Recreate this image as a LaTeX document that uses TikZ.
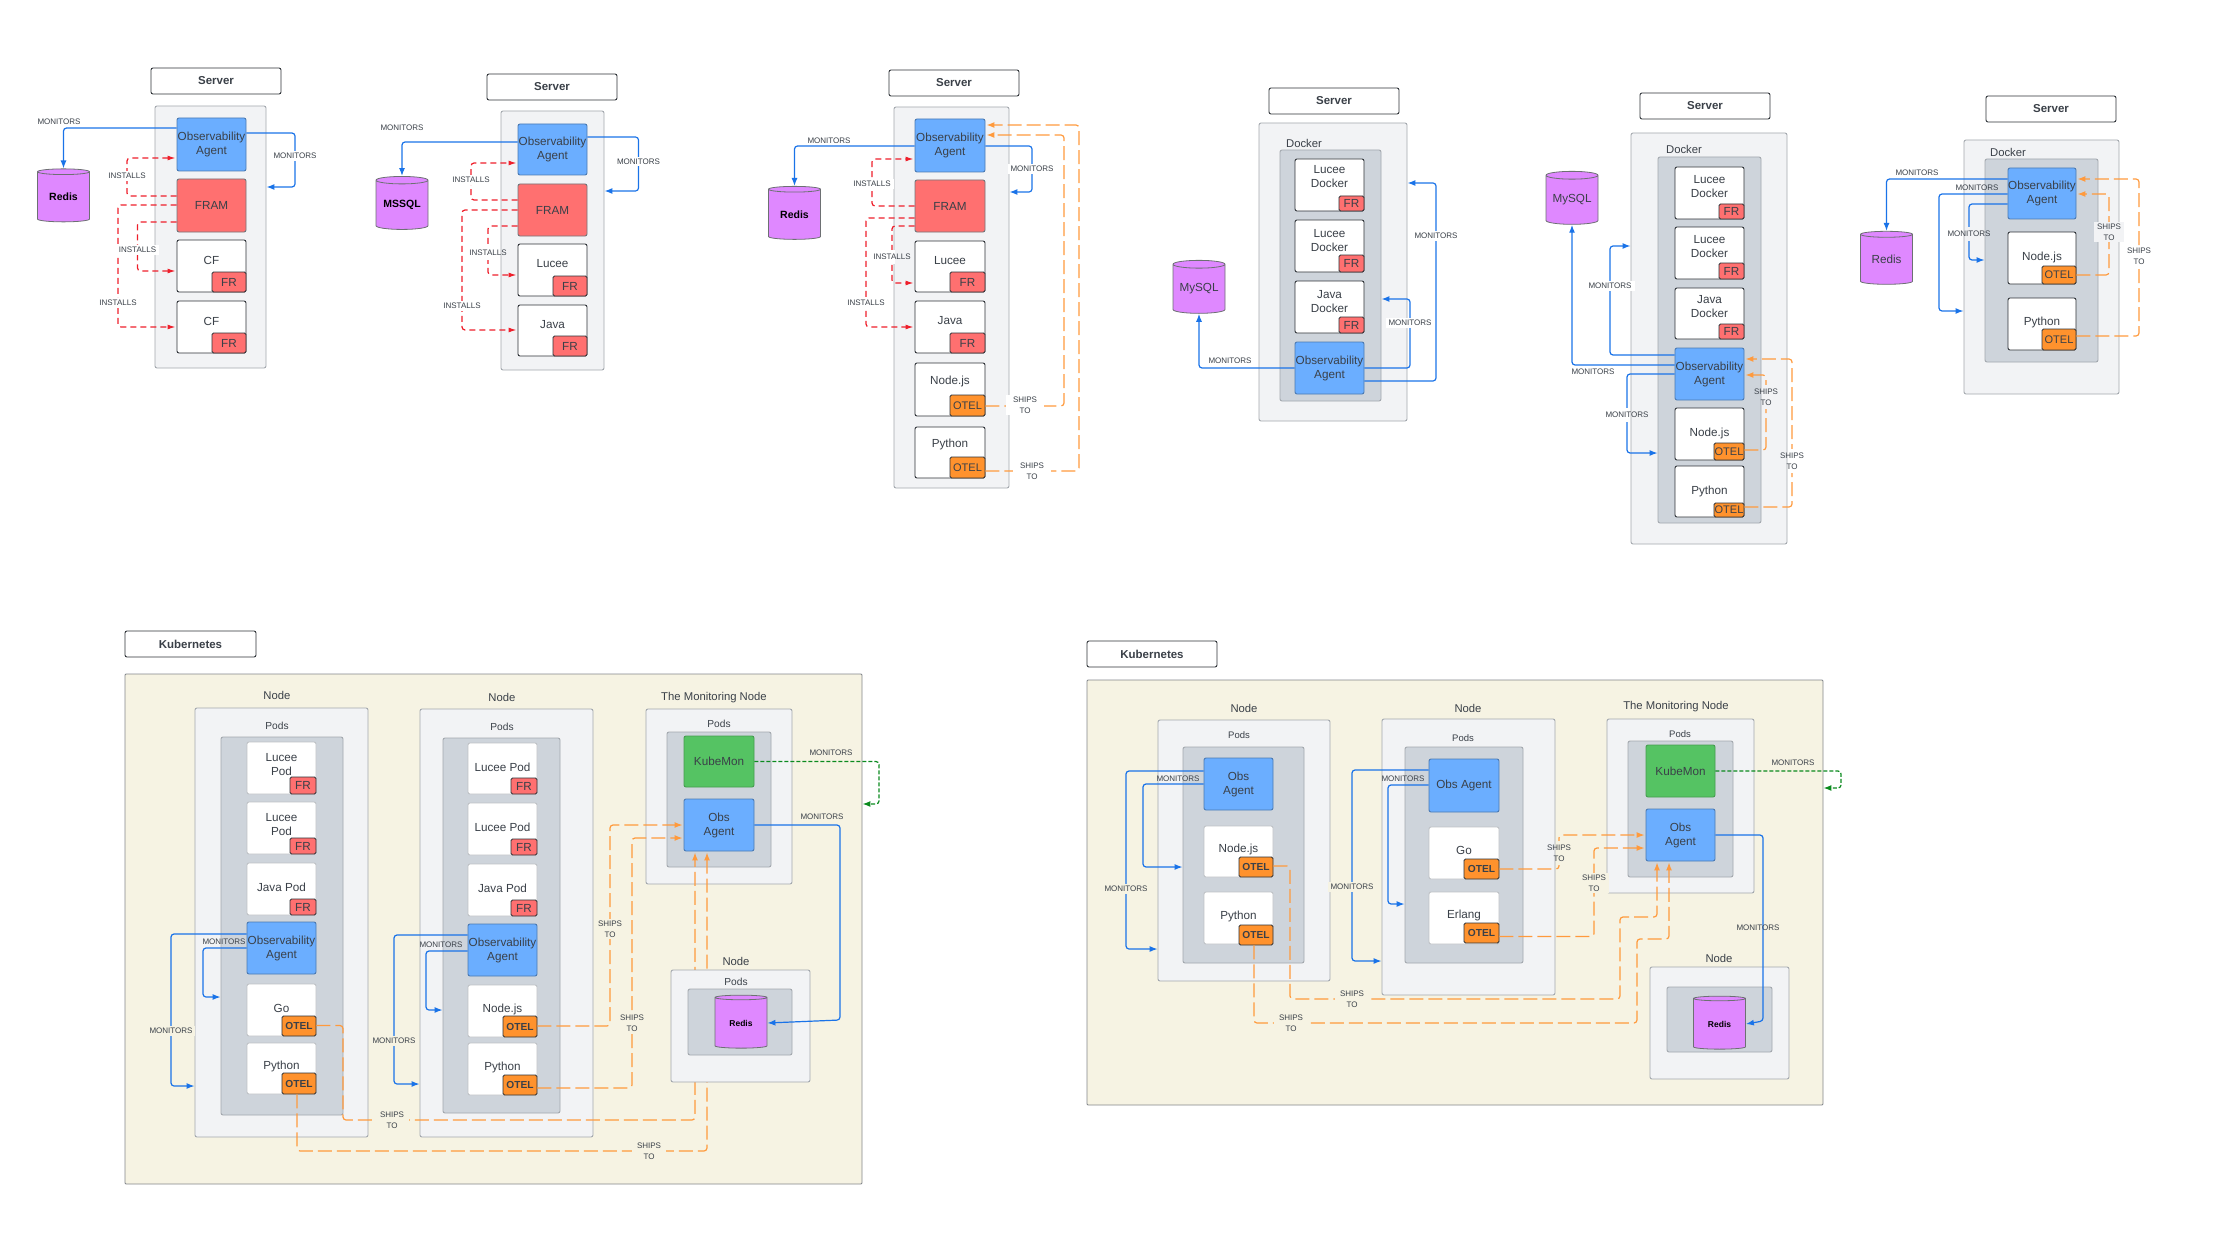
\documentclass[tikz,border=0pt]{standalone}
\usepackage{fontspec}
\setmainfont{Liberation Sans}
\usetikzlibrary{arrows.meta}
\usetikzlibrary{shapes.geometric}
\definecolor{ink}{HTML}{3A4048}
\definecolor{darkedge}{HTML}{2E3237}
\definecolor{softedge}{HTML}{A3A8AE}
\definecolor{outerfill}{HTML}{F2F3F5}
\definecolor{innerfill}{HTML}{CED4DB}
\definecolor{areafill}{HTML}{F6F3E3}
\definecolor{agentfill}{HTML}{6BAEFF}
\definecolor{framfill}{HTML}{FF7070}
\definecolor{otelfill}{HTML}{FF922D}
\definecolor{dbfill}{HTML}{DF88FF}
\definecolor{kubefill}{HTML}{55C363}
\definecolor{monblue}{HTML}{1A73E8}
\definecolor{insred}{HTML}{EE1F2B}
\definecolor{shiporange}{HTML}{FF9A3D}
\definecolor{kmgreen}{HTML}{0B8A1E}
\tikzset{
	every node/.style={inner sep=0pt, align=center, text=ink},
	basefont/.style={font=\fontsize{11.7}{14}\selectfont},
	titlebox/.style={draw=darkedge, fill=white, rounded corners=2pt, line width=0.9pt, font=\fontsize{11.5}{14}\selectfont\bfseries},
	outerbox/.style={draw=softedge, fill=outerfill, rounded corners=2pt, line width=0.9pt},
	innerbox/.style={draw=softedge, fill=innerfill, rounded corners=2pt, line width=0.9pt},
	areabox/.style={draw=softedge!80!black, fill=areafill, rounded corners=1pt, line width=0.9pt},
	appbox/.style={draw=darkedge, fill=white, rounded corners=2pt, line width=0.9pt},
	podbox/.style={draw=softedge!70, fill=white, rounded corners=2pt, line width=0.9pt},
	agentbox/.style={basefont, draw=agentfill!70!black, fill=agentfill, rounded corners=2pt, line width=0.9pt},
	frambox/.style={basefont, draw=softedge!70!black, fill=framfill, rounded corners=2pt, line width=0.9pt},
	kubebox/.style={basefont, draw=kubefill!80!black, fill=kubefill, rounded corners=2pt, line width=0.9pt},
	frbadge/.style={basefont, draw=darkedge, fill=framfill, rounded corners=1.5pt, line width=0.9pt},
	otelbadge/.style={font=\fontsize{11}{14}\selectfont, draw=darkedge, fill=otelfill, rounded corners=1.5pt, line width=0.9pt},
	otelbold/.style={font=\fontsize{10.2}{14}\selectfont\bfseries, draw=darkedge, fill=otelfill, rounded corners=1.5pt, line width=0.9pt},
	dbstyle/.style={shape=cylinder, shape border rotate=90, shape aspect=0.2, minimum width=52pt, minimum height=53pt, yshift=-3pt, draw=darkedge!70, cylinder uses custom fill, cylinder body fill=dbfill, cylinder end fill=dbfill, line width=0.8pt, basefont},
	lab/.style={font=\fontsize{8}{10.5}\selectfont},
	gaplab/.style={lab, fill=#1, inner xsep=3pt, inner ysep=2pt},
	linegap/.style={fill=#1, minimum width=6pt, minimum height=14pt},
	boxlab/.style={font=\fontsize{11.3}{14}\selectfont},
	podlab/.style={font=\fontsize{10.2}{14}\selectfont},
	monline/.style={draw=monblue, line width=1.2pt, rounded corners=3pt, -{Latex[length=8pt,width=6pt]}},
	insline/.style={draw=insred, line width=1.2pt, rounded corners=3pt, dash pattern=on 6pt off 4pt, shorten >=1pt, -{Latex[length=8pt,width=5pt]}},
	shipline/.style={draw=shiporange, line width=1.2pt, rounded corners=3pt, dash pattern=on 14pt off 5pt, shorten >=1pt, -{Latex[length=8pt,width=6pt]}},
	kmline/.style={draw=kmgreen, line width=1.2pt, rounded corners=3pt, dash pattern=on 4pt off 2pt, -{Latex[length=8pt,width=6pt]}},
}
\newcommand{\rectnode}[7] % style, name, x1, y1, x2, y2, text
{
	\pgfmathsetmacro{\boxw}{#5-#3}
	\pgfmathsetmacro{\boxh}{#6-#4}
	\node[#1, minimum width=\boxw pt, minimum height=\boxh pt] (#2) at ({(#3+#5)/2},{(#4+#6)/2}) {#7};
}
\newcommand{\app}[7] % name, x1, y1, x2, y2, text, text offset
{
	\rectnode{appbox}{#1}{#2}{#3}{#4}{#5}{}
	\node[basefont] (#1txt) at ({(#2+#4)/2},{(#3+#5)/2+#7}) {#6};
}
\newcommand{\pod}[7] % same as app, lighter frame
{
	\rectnode{podbox}{#1}{#2}{#3}{#4}{#5}{}
	\node[basefont] (#1txt) at ({(#2+#4)/2},{(#3+#5)/2+#7}) {#6};
}
\newcommand{\frtag}[5]{\rectnode{frbadge}{#1}{#2}{#3}{#4}{#5}{FR}}
\newcommand{\oteltag}[5]{\rectnode{otelbadge}{#1}{#2}{#3}{#4}{#5}{OTEL}}
\newcommand{\otelkube}[5]{\rectnode{otelbold}{#1}{#2}{#3}{#4}{#5}{OTEL}}
\begin{document}
\begin{tikzpicture}[x=1pt,y=-1pt]
	\useasboundingbox (0,0) rectangle (2240,1260);

	% server with fram, two cf
	\rectnode{titlebox}{sa}{151}{68}{281}{94}{Server}
	\rectnode{outerbox}{saouter}{155}{106}{266}{368}{}
	\rectnode{agentbox}{saagent}{177}{118}{246}{171}{Observability\\Agent}
	\rectnode{frambox}{safram}{177}{179}{246}{232}{FRAM}
	\app{sacfa}{177}{240}{246}{292}{CF}{-6}
	\frtag{sacfafr}{212}{272}{246}{292}
	\app{sacfb}{177}{301}{246}{353}{CF}{-6}
	\frtag{sacfbfr}{212}{333}{246}{353}
	\node[dbstyle, font=\fontsize{10.5}{14}\selectfont\bfseries, text=black] (sadb) at (63.5,194) {Redis};
	\draw[monline] (saagent.west |- 0,128) -| (sadb.north);
	\draw[monline] (saagent.east |- 0,133) -| (295,187) -- (saouter.east |- 0,187);
	\draw[insline] (safram.west |- 0,196) -| (127,158) -- (saagent.west |- 0,158);
	\draw[insline] (safram.west |- 0,205) -| (118,327) -- (sacfb.west |- 0,327);
	\draw[insline] (safram.west |- 0,222) -| (137.5,271) -- (sacfa.west |- 0,271);
	\node[lab] (samona) at (59,122) {MONITORS};
	\node[gaplab=white] (samonb) at (295,156) {MONITORS};
	\node[gaplab=white] (sainsa) at (127,176) {INSTALLS};
	\node[gaplab=white] (sainsb) at (118,303) {INSTALLS};
	\node[gaplab=white] (sainsc) at (137.5,250) {INSTALLS};

	% server with fram, lucee, java
	\rectnode{titlebox}{sb}{487}{74}{617}{100}{Server}
	\rectnode{outerbox}{sbouter}{501}{111}{604}{370}{}
	\rectnode{agentbox}{sbagent}{518}{124}{587}{175}{Observability\\Agent}
	\rectnode{frambox}{sbfram}{518}{184}{587}{236}{FRAM}
	\app{sblucee}{518}{244}{587}{296}{Lucee}{-6}
	\frtag{sbluceefr}{553}{276}{587}{296}
	\app{sbjava}{518}{305}{587}{356}{Java}{-6}
	\frtag{sbjavafr}{553}{336}{587}{356}
	\node[dbstyle, font=\fontsize{10.5}{14}\selectfont\bfseries, text=black] (sbdb) at (402,202) {MSSQL};
	\draw[monline] (sbagent.west |- 0,142) -| (sbdb.north);
	\draw[monline] (sbagent.east |- 0,137) -| (638.5,191) -- (sbouter.east |- 0,191);
	\draw[insline] (sbfram.west |- 0,200) -| (471,163) -- (sbagent.west |- 0,163);
	\draw[insline] (sbfram.west |- 0,210) -| (462,330) -- (sbjava.west |- 0,330);
	\draw[insline] (sbfram.west |- 0,226) -| (488,275) -- (sblucee.west |- 0,275);
	\node[lab] (sbmona) at (402,128) {MONITORS};
	\node[gaplab=white] (sbmonb) at (638.5,161.5) {MONITORS};
	\node[gaplab=white] (sbinsa) at (471,180) {INSTALLS};
	\node[gaplab=white] (sbinsb) at (462,306) {INSTALLS};
	\node[linegap=white] (sbgap) at (488,253) {};
	\node[lab] (sbinsc) at (488,253) {INSTALLS};

	% server with otel apps too
	\rectnode{titlebox}{sc}{889}{70}{1019}{96}{Server}
	\rectnode{outerbox}{scouter}{894}{107}{1009}{488}{}
	\rectnode{agentbox}{scagent}{915}{119}{985}{172}{Observability\\Agent}
	\rectnode{frambox}{scfram}{915}{180}{985}{232}{FRAM}
	\app{sclucee}{915}{241}{985}{292}{Lucee}{-6}
	\frtag{scluceefr}{950}{272}{985}{292}
	\app{scjava}{915}{301}{985}{353}{Java}{-6}
	\frtag{scjavafr}{950}{333}{985}{353}
	\app{scnode}{915}{363}{985}{416}{Node.js}{-8}
	\oteltag{scnodeot}{950}{395}{985}{416}
	\app{scpy}{915}{427}{985}{478}{Python}{-8}
	\oteltag{scpyot}{950}{457}{985}{478}
	\node[dbstyle, font=\fontsize{10.5}{14}\selectfont\bfseries, text=black] (scdb) at (794.5,211.5) {Redis};
	\draw[monline] (scagent.west |- 0,146) -| (scdb.north);
	\draw[monline] (scagent.east |- 0,146) -| (1032,192) -- (scouter.east |- 0,192);
	\draw[insline] (scfram.west |- 0,206) -| (872,159) -- (scagent.west |- 0,159);
	\draw[insline] (scfram.west |- 0,218) -| (866,327) -- (scjava.west |- 0,327);
	\draw[insline] (scfram.west |- 0,226) -| (892,283) -- (sclucee.west |- 0,283);
	\draw[shipline] (scnodeot.east |- 0,406) -| (1064,135) -- (scagent.east |- 0,135);
	\draw[shipline] (scpyot.east |- 0,471) -| (1079,125) -- (scagent.east |- 0,125);
	\node[lab] (scmona) at (829,141) {MONITORS};
	\node[gaplab=white] (scmonb) at (1032,169) {MONITORS};
	\node[gaplab=white] (scinsa) at (872,184) {INSTALLS};
	\node[gaplab=white] (scinsb) at (866,303) {INSTALLS};
	\node[linegap=white] (scgap) at (892,257) {};
	\node[lab] (scinsc) at (892,257) {INSTALLS};
	\node[gaplab=white, inner xsep=7pt] (scshipa) at (1025,405) {SHIPS\\TO};
	\node[gaplab=white, inner xsep=7pt] (scshipb) at (1032,471) {SHIPS\\TO};

	% docker server, agent below
	\rectnode{titlebox}{sd}{1269}{88}{1399}{114}{Server}
	\rectnode{outerbox}{sdouter}{1259}{123}{1407}{421}{}
	\node[boxlab] (sddock) at (1304,143) {Docker};
	\rectnode{innerbox}{sdinner}{1280}{150}{1381}{401}{}
	\app{sdluca}{1295}{159}{1364}{211}{Lucee\\Docker}{-8}
	\frtag{sdlucafr}{1339}{196}{1364}{211}
	\app{sdlucb}{1295}{220}{1364}{272}{Lucee\\Docker}{-5}
	\frtag{sdlucbfr}{1339}{255}{1364}{272}
	\app{sdjava}{1295}{281}{1364}{333}{Java\\Docker}{-5}
	\frtag{sdjavafr}{1339}{317}{1364}{333}
	\rectnode{agentbox}{sdagent}{1295}{342}{1364}{394}{Observability\\Agent}
	\node[dbstyle] (sddb) at (1199,286) {MySQL};
	\draw[monline] (sdagent.west |- 0,368) -| (sddb.south);
	\draw[monline] (sdagent.east |- 0,368) -| (1410,299) -- (sdinner.east |- 0,299);
	\draw[monline] (sdagent.east |- 0,381) -| (1436,183) -- (sdouter.east |- 0,183);
	\node[lab] (sdmona) at (1230,361) {MONITORS};
	\node[gaplab=white] (sdmonb) at (1410,323) {MONITORS};
	\node[gaplab=white] (sdmonc) at (1436,236) {MONITORS};

	% docker server, otel apps below agent
	\rectnode{titlebox}{se}{1640}{93}{1770}{119}{Server}
	\rectnode{outerbox}{seouter}{1631}{133}{1787}{544}{}
	\node[boxlab] (sedock) at (1684,149) {Docker};
	\rectnode{innerbox}{seinner}{1658}{157}{1761}{523}{}
	\app{seluca}{1675}{167}{1744}{219}{Lucee\\Docker}{-6}
	\frtag{selucafr}{1719}{204}{1744}{219}
	\app{selucb}{1675}{227}{1744}{279}{Lucee\\Docker}{-6}
	\frtag{selucbfr}{1719}{263}{1744}{279}
	\app{sejava}{1675}{288}{1744}{339}{Java\\Docker}{-7}
	\frtag{sejavafr}{1719}{324}{1744}{339}
	\rectnode{agentbox}{seagent}{1675}{348}{1744}{400}{Observability\\Agent}
	\app{senode}{1675}{408}{1744}{460}{Node.js}{-1}
	\oteltag{senodeot}{1714}{443}{1744}{460}
	\app{sepy}{1675}{466}{1744}{517}{Python}{0}
	\oteltag{sepyot}{1714}{503}{1744}{517}
	\node[dbstyle] (sedb) at (1572,197) {MySQL};
	\draw[monline] (seagent.west |- 0,355) -| (1610,246) -- (seouter.west |- 0,246);
	\draw[monline] (seagent.west |- 0,365) -| (sedb.south);
	\draw[monline] (seagent.west |- 0,374) -| (1627,453) -- (seinner.west |- 0,453);
	\draw[shipline] (senodeot.east |- 0,450) -| (1766,375) -- (seagent.east |- 0,375);
	\draw[shipline] (sepyot.east |- 0,507) -| (1792,359) -- (seagent.east |- 0,359);
	\node[gaplab=white] (semona) at (1610,286) {MONITORS};
	\node[lab] (semonb) at (1593,372) {MONITORS};
	\node[linegap=white] (segapa) at (1627,415) {};
	\node[lab] (semonc) at (1627,415) {MONITORS};
	\node[linegap=outerfill, minimum height=24pt] (segapb) at (1766,397) {};
	\node[lab] (seshipa) at (1766,397) {SHIPS\\TO};
	\node[linegap=white, minimum height=24pt] (segapc) at (1792,461) {};
	\node[lab] (seshipb) at (1792,461) {SHIPS\\TO};

	% docker server, agent on top
	\rectnode{titlebox}{sf}{1986}{96}{2116}{122}{Server}
	\rectnode{outerbox}{sfouter}{1964}{140}{2119}{394}{}
	\node[boxlab] (sfdock) at (2008,152) {Docker};
	\rectnode{innerbox}{sfinner}{1985}{159}{2098}{362}{}
	\rectnode{agentbox}{sfagent}{2008}{168}{2076}{219}{Observability\\Agent}
	\app{sfnode}{2008}{232}{2076}{284}{Node.js}{-1}
	\oteltag{sfnodeot}{2042}{266}{2076}{284}
	\app{sfpy}{2008}{298}{2076}{350}{Python}{-2}
	\oteltag{sfpyot}{2042}{329}{2076}{350}
	\node[dbstyle] (sfdb) at (1886.5,256.5) {Redis};
	\draw[monline] (sfagent.west |- 0,179) -| (sfdb.north);
	\draw[monline] (sfagent.west |- 0,194) -| (1939,311) -- (sfouter.west |- 0,311);
	\draw[monline] (sfagent.west |- 0,204) -| (1969,260) -- (sfinner.west |- 0,260);
	\draw[shipline] (sfnodeot.east |- 0,275) -| (2109,194) -- (sfagent.east |- 0,194);
	\draw[shipline] (sfpyot.east |- 0,336) -| (2139,179) -- (sfagent.east |- 0,179);
	\node[lab] (sfmona) at (1917,173) {MONITORS};
	\node[lab] (sfmonb) at (1977,188) {MONITORS};
	\node[linegap=outerfill] (sfgap) at (1969,234) {};
	\node[lab] (sfmonc) at (1969,234) {MONITORS};
	\node[gaplab=outerfill] (sfshipa) at (2109,232) {SHIPS\\TO};
	\node[gaplab=white] (sfshipb) at (2139,256) {SHIPS\\TO};

	% kubernetes, left
	\rectnode{titlebox}{ka}{125}{631}{256}{657}{Kubernetes}
	\rectnode{areabox}{kaarea}{125}{674}{862}{1184}{}
	\node[boxlab] (kanodealab) at (277,695) {Node};
	\rectnode{outerbox}{kanodea}{195}{708}{368}{1137}{}
	\node[podlab] (kapodsalab) at (277,726) {Pods};
	\rectnode{innerbox}{kapodsa}{221}{737}{343}{1115}{}
	\pod{kaluca}{247}{742}{316}{794}{Lucee\\Pod}{-3}
	\frtag{kalucafr}{290}{777}{316}{794}
	\pod{kalucb}{247}{802}{316}{854}{Lucee\\Pod}{-3}
	\frtag{kalucbfr}{290}{838}{316}{854}
	\pod{kajava}{247}{863}{316}{915}{Java Pod}{-2}
	\frtag{kajavafr}{290}{899}{316}{915}
	\rectnode{agentbox}{kaagenta}{247}{922}{316}{974}{Observability\\Agent}
	\pod{kago}{247}{984}{316}{1036}{Go}{-2}
	\otelkube{kagoot}{282}{1016}{316}{1036}
	\pod{kapya}{247}{1043}{316}{1094}{Python}{-2}
	\otelkube{kapyaot}{282}{1073}{316}{1094}
	\node[boxlab] (kanodeblab) at (502,697) {Node};
	\rectnode{outerbox}{kanodeb}{420}{709}{593}{1137}{}
	\node[podlab] (kapodsblab) at (502,727) {Pods};
	\rectnode{innerbox}{kapodsb}{443}{738}{560}{1113}{}
	\pod{kalucc}{468}{743}{537}{794}{Lucee Pod}{-1.5}
	\frtag{kaluccfr}{511}{778}{537}{794}
	\pod{kalucd}{468}{803}{537}{855}{Lucee Pod}{-1.5}
	\frtag{kalucdfr}{511}{839}{537}{855}
	\pod{kajavb}{468}{864}{537}{916}{Java Pod}{-1.5}
	\frtag{kajavbfr}{511}{900}{537}{916}
	\rectnode{agentbox}{kaagentb}{468}{924}{537}{976}{Observability\\Agent}
	\pod{kanode}{468}{985}{537}{1037}{Node.js}{-2}
	\otelkube{kanodeot}{503}{1016}{537}{1037}
	\pod{kapyb}{468}{1043}{537}{1095}{Python}{-2}
	\otelkube{kapybot}{503}{1075}{537}{1095}
	\node[boxlab] (kamonlab) at (714,698) {The Monitoring Node};
	\rectnode{outerbox}{kamon}{646}{709}{792}{884}{}
	\node[podlab] (kapodsclab) at (719,724) {Pods};
	\rectnode{innerbox}{kapodsc}{667}{732}{771}{867}{}
	\rectnode{kubebox}{kakube}{684}{736}{754}{787}{KubeMon}
	\rectnode{agentbox}{kaobs}{684}{799}{754}{851}{Obs\\Agent}
	\draw[shipline] (kagoot.east |- 0,1025.5) -| (343,1120) -| (kaobs.south -| 695,0);
	\draw[shipline] (kapyaot.south -| 297,0) |- (707,1151) -- (kaobs.south -| 707,0);
	\draw[shipline] (kanodeot.east |- 0,1026) -| (610,825) -- (kaobs.west |- 0,825);
	\draw[shipline] (kapybot.east |- 0,1088) -| (632,838) -- (kaobs.west |- 0,838);
	\node[boxlab] (kanodeclab) at (736,961) {Node};
	\rectnode{outerbox}{kanodec}{671}{970}{810}{1082}{}
	\node[podlab] (kapodsdlab) at (736,982) {Pods};
	\rectnode{innerbox}{kapodsd}{688}{989}{792}{1055}{}
	\node[dbstyle, font=\fontsize{8.5}{10}\selectfont\bfseries, text=black] (kadb) at (741,1020) {Redis};
	\draw[monline] (kaagenta.west |- 0,934) -| (171,1086) -- (kanodea.west |- 0,1086);
	\draw[monline] (kaagenta.west |- 0,948) -| (203,997) -- (kapodsa.west |- 0,997);
	\draw[monline] (kaagentb.west |- 0,935) -| (394,1084) -- (kanodeb.west |- 0,1084);
	\draw[monline] (kaagentb.west |- 0,951) -| (426,1010) -- (kapodsb.west |- 0,1010);
	\draw[monline] (kaobs.east |- 0,825) -| (840,1020) -- (kadb.east);
	\draw[kmline] (kakube.east) -| (879,804) -- (kaarea.east |- 0,804);
	\node[gaplab=areafill] (kamona) at (171,1031) {MONITORS};
	\node[lab] (kamonb) at (224,942) {MONITORS};
	\node[gaplab=areafill] (kamonc) at (394,1041) {MONITORS};
	\node[lab] (kamond) at (441,945) {MONITORS};
	\node[lab] (kamone) at (831,753) {MONITORS};
	\node[lab] (kamonf) at (822,817) {MONITORS};
	\node[gaplab=areafill, inner xsep=5pt] (kashipa) at (392,1120) {SHIPS\\TO};
	\node[gaplab=areafill, inner xsep=5pt] (kashipb) at (649,1151) {SHIPS\\TO};
	\node[gaplab=areafill] (kashipc) at (610,929) {SHIPS\\TO};
	\node[gaplab=areafill] (kashipd) at (632,1023) {SHIPS\\TO};

	% kubernetes, right
	\rectnode{titlebox}{kb}{1087}{641}{1217}{667}{Kubernetes}
	\rectnode{areabox}{kbarea}{1087}{680}{1823}{1105}{}
	\node[boxlab] (kbnodealab) at (1244,708) {Node};
	\rectnode{outerbox}{kbnodea}{1158}{720}{1330}{981}{}
	\node[font=\fontsize{9.5}{12}\selectfont] (kbpodsalab) at (1239,735) {Pods};
	\rectnode{innerbox}{kbpodsa}{1183}{747}{1304}{963}{}
	\rectnode{agentbox}{kbagenta}{1204}{758}{1273}{810}{Obs\\Agent}
	\pod{kbnode}{1204}{826}{1273}{877}{Node.js}{-2.5}
	\otelkube{kbnodeot}{1239}{857}{1273}{877}
	\pod{kbpy}{1204}{892}{1273}{944}{Python}{-2}
	\otelkube{kbpyot}{1239}{925}{1273}{945}
	\node[boxlab] (kbnodeblab) at (1468,708) {Node};
	\rectnode{outerbox}{kbnodeb}{1382}{719}{1555}{995}{}
	\node[font=\fontsize{9.5}{12}\selectfont] (kbpodsblab) at (1463,738) {Pods};
	\rectnode{innerbox}{kbpodsb}{1405}{747}{1523}{963}{}
	\rectnode{agentbox}{kbagentb}{1429}{759}{1499}{812}{Obs Agent}
	\pod{kbgo}{1429}{827}{1499}{879}{Go}{-3}
	\otelkube{kbgoot}{1464}{859}{1499}{879}
	\pod{kberl}{1429}{892}{1499}{944}{Erlang}{-3}
	\otelkube{kberot}{1464}{923}{1499}{943}
	\node[boxlab] (kbmonlab) at (1676,707) {The Monitoring Node};
	\rectnode{outerbox}{kbmon}{1607}{719}{1754}{893}{}
	\node[font=\fontsize{9.5}{12}\selectfont] (kbpodsclab) at (1680,734) {Pods};
	\rectnode{innerbox}{kbpodsc}{1628}{741}{1733}{877}{}
	\rectnode{kubebox}{kbkube}{1646}{745}{1715}{797}{KubeMon}
	\rectnode{agentbox}{kbobs}{1646}{809}{1715}{861}{Obs\\Agent}
	\node[boxlab] (kbnodeclab) at (1719,958) {Node};
	\rectnode{outerbox}{kbnodec}{1650}{967}{1789}{1079}{}
	\rectnode{innerbox}{kbpodsd}{1667}{987}{1772}{1052}{}
	\node[dbstyle, font=\fontsize{8.5}{10}\selectfont\bfseries, text=black] (kbdb) at (1719.5,1021) {Redis};
	\draw[monline] (kbagenta.west |- 0,771) -| (1126,949) -- (kbnodea.west |- 0,949);
	\draw[monline] (kbagenta.west |- 0,784) -| (1143,867) -- (kbpodsa.west |- 0,867);
	\draw[monline] (kbagentb.west |- 0,770) -| (1352,961) -- (kbnodeb.west |- 0,961);
	\draw[monline] (kbagentb.west |- 0,785) -| (1388,904) -- (kbpodsb.west |- 0,904);
	\draw[monline] (kbobs.east |- 0,835) -| (1763,1021) -- (kbdb.east);
	\draw[kmline] (kbkube.east) -| (1841,788) -- (kbarea.east |- 0,788);
	\draw[shipline] (kbnodeot.east |- 0,866) -| (1290,999) -| (1620,917) -| (kbobs.south -| 1657,0);
	\draw[shipline] (kbpyot.south -| 1254,0) |- (1637,1023) |- (1669,939) -- (kbobs.south -| 1669,0);
	\draw[shipline] (kbgoot.east |- 0,869) -| (1559,835) -- (kbobs.west |- 0,835);
	\draw[shipline] (kberot.east |- 0,936.5) -| (1594,848) -- (kbobs.west |- 0,848);
	\node[gaplab=areafill] (kbmona) at (1126,889) {MONITORS};
	\node[lab] (kbmonb) at (1178,779) {MONITORS};
	\node[gaplab=areafill] (kbmonc) at (1352,887) {MONITORS};
	\node[lab] (kbmond) at (1403,779) {MONITORS};
	\node[lab] (kbmone) at (1793,763) {MONITORS};
	\node[lab] (kbmonf) at (1758,928) {MONITORS};
	\node[gaplab=areafill, inner xsep=5pt] (kbshipa) at (1352,999) {SHIPS\\TO};
	\node[gaplab=areafill, inner xsep=5pt] (kbshipb) at (1291,1023) {SHIPS\\TO};
	\node[linegap=areafill, minimum height=24pt] (kbgap) at (1559,853) {};
	\node[lab] (kbshipc) at (1559,853) {SHIPS\\TO};
	\node[gaplab=areafill] (kbshipd) at (1594,883) {SHIPS\\TO};
\end{tikzpicture}
\end{document}
